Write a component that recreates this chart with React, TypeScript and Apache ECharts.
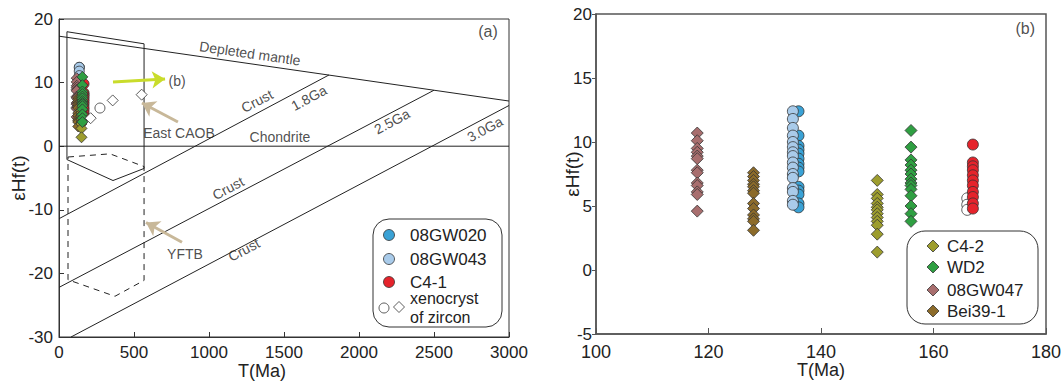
import React, { useEffect, useRef } from "react";
import * as echarts from "echarts";

const FONT = '"Liberation Sans", Arial, Helvetica, sans-serif';

// ---- Sample ages (Ma) ----
const age08GW020 = 136;
const age08GW043 = 135;
const ageC41 = 167;
const ageInherited = 166;
const age08GW047 = 118;
const ageBei391 = 128;
const ageC42 = 150;
const ageWD2 = 156;

// ---- εHf(t) values ----
const hf08GW020 = [12.4, 10.5, 9.7, 9.4, 9.1, 8.7, 8.3, 8.0, 7.7, 6.5, 6.2, 5.9, 5.2, 4.9];
const hf08GW043 = [12.4, 11.8, 11.1, 10.5, 10.0, 9.6, 9.2, 8.9, 8.4, 8.0, 7.5, 7.2, 6.4, 6.1, 5.4, 5.1];
const hfC41 = [9.8, 8.4, 8.1, 7.8, 7.4, 7.0, 6.6, 6.1, 5.7, 5.2, 4.8];
const hfInherited = [5.6, 5.1, 4.7];
const hf08GW047 = [10.7, 10.1, 9.5, 9.2, 8.9, 8.7, 7.8, 7.6, 6.8, 6.6, 6.1, 5.9, 4.6];
const hfBei391 = [7.6, 7.3, 7.0, 6.7, 6.5, 6.2, 6.0, 5.2, 4.8, 4.3, 4.0, 3.8, 3.1];
const hfC42 = [7.0, 5.9, 5.6, 5.2, 4.9, 4.7, 4.4, 4.1, 3.8, 3.5, 2.8, 1.4];
const hfWD2 = [10.9, 9.6, 8.6, 8.2, 7.8, 7.5, 7.1, 6.8, 6.6, 6.3, 5.8, 5.0, 4.4, 3.8];

// xenocryst zircons (panel a): [T, εHf]
const xenoCircles = [[273, 6.0]];
const xenoDiamonds = [[211, 4.4], [358, 7.2], [551, 8.1]];

// ---- reference lines (panel a) ----
const depletedMantle = [[0, 17.3], [3000, 7.1]];
const chondrite = [[0, 0], [3000, 0]];
const crust18 = [[0, -11.4], [1800, 11.2]];
const crust25 = [[0, -22.2], [2500, 8.8]];
const crust30 = [[80, -30], [3000, 6.4]];
const eastCAOBField = [[53, 18.0], [567, 16.1], [567, -3.5], [360, -5.4], [53, -2.1], [53, 18.0]];
const yftbField = [[60, -1.7], [340, -1.2], [567, -3.2], [567, -21.1], [373, -23.6], [60, -21.0], [60, -1.7]];

// arrows (panel a) in data coords
const arrowB = [[360, 10.1], [707, 10.55]];
const arrowCAOB = [[793, 3.8], [553, 6.8]];
const arrowYFTB = [[820, -15.1], [580, -12.0]];

// annotation texts: [T, εHf, text, rotation, font size]
const annotationsA: [number, number, string, number, number][] = [
  [1273, 14.6, "Depleted mantle", -8.2, 14],
  [1320, 7.1, "Crust", 28, 14],
  [1667, 7.6, "1.8Ga", 28, 14],
  [1473, 1.4, "Chondrite", 0, 14],
  [1127, -6.6, "Crust", 28, 14],
  [2220, 3.9, "2.5Ga", 28, 14],
  [1233, -16.3, "Crust", 28, 14],
  [2840, 2.7, "3.0Ga", 28, 14],
  [800, 2.0, "East CAOB", 0, 14],
  [840, -16.9, "YFTB", 0, 14],
  [787, 10.2, "(b)", 0, 14],
  [2860, 18.0, "(a)", 0, 16],
];
const annotationsB: [number, number, string, number, number][] = [
  [176.3, 18.9, "(b)", 0, 16],
];

// colours
const C_08GW020 = "#3aa2d6";
const C_08GW043 = "#a9cbea";
const C_C41 = "#e5232b";
const C_08GW047 = "#a86e6e";
const C_BEI391 = "#8c6b2a";
const C_C42 = "#9d9d2e";
const C_WD2 = "#2f9f42";

const pts = (age: number, arr: number[]) => arr.map((v) => [age, v]);

function scatter(name: string, gi: number, data: number[][], color: string, symbol: string, size: number) {
  return {
    name,
    type: "scatter",
    xAxisIndex: gi,
    yAxisIndex: gi,
    symbol,
    symbolSize: size,
    data,
    itemStyle: { color, borderColor: "#333", borderWidth: 0.8, opacity: 1 },
    z: 4,
  };
}

function lineS(data: number[][], dashed = false) {
  return {
    type: "line",
    xAxisIndex: 0,
    yAxisIndex: 0,
    data,
    symbol: "none",
    silent: true,
    lineStyle: { color: "#222", width: 1, type: dashed ? [6, 5] : "solid" },
    z: 2,
  };
}

function arrowS(coords: number[][], color: string) {
  return {
    type: "lines",
    coordinateSystem: "cartesian2d",
    xAxisIndex: 0,
    yAxisIndex: 0,
    symbol: ["none", "arrow"],
    symbolSize: 13,
    silent: true,
    lineStyle: { color, width: 3, opacity: 1, curveness: 0 },
    data: [{ coords }],
    z: 5,
  };
}

function annotS(gi: number, list: [number, number, string, number, number][]) {
  return {
    type: "scatter",
    xAxisIndex: gi,
    yAxisIndex: gi,
    symbolSize: 0,
    silent: true,
    z: 6,
    data: list.map(([x, y, t, r, fs]) => ({
      value: [x, y],
      name: t,
      label: { rotate: r, fontSize: fs },
    })),
    label: {
      show: true,
      position: "inside",
      formatter: "{b}",
      color: "#222",
      fontFamily: FONT,
    },
  };
}

function diamondPts(cx: number, cy: number, h: number) {
  return [[cx, cy - h], [cx + h, cy], [cx, cy + h], [cx - h, cy]];
}

const legendText = (x: number, y: number, text: string, fs = 17) => ({
  type: "text",
  x,
  y,
  style: { text, fontSize: fs, fontFamily: FONT, fill: "#222", verticalAlign: "middle", align: "left" },
});

const graphics = [
  // legend (a)
  { type: "rect", shape: { x: 373, y: 219, width: 129, height: 108, r: 16 }, style: { fill: "#fff", stroke: "#333", lineWidth: 1 }, z: 10 },
  { type: "circle", shape: { cx: 389, cy: 235, r: 5.5 }, style: { fill: C_08GW020, stroke: "#333", lineWidth: 0.8 }, z: 11 },
  { ...legendText(410, 235, "08GW020"), z: 11 },
  { type: "circle", shape: { cx: 389, cy: 259, r: 5.5 }, style: { fill: C_08GW043, stroke: "#333", lineWidth: 0.8 }, z: 11 },
  { ...legendText(410, 259, "08GW043"), z: 11 },
  { type: "circle", shape: { cx: 389, cy: 282, r: 5.5 }, style: { fill: C_C41, stroke: "#333", lineWidth: 0.8 }, z: 11 },
  { ...legendText(410, 282, "C4-1"), z: 11 },
  { type: "circle", shape: { cx: 384, cy: 308, r: 5 }, style: { fill: "#fff", stroke: "#333", lineWidth: 0.8 }, z: 11 },
  { type: "polygon", shape: { points: diamondPts(399, 307, 5.5) }, style: { fill: "#fff", stroke: "#333", lineWidth: 0.8 }, z: 11 },
  { ...legendText(410, 298, "xenocryst", 16), z: 11 },
  { ...legendText(410, 317, "of zircon", 16), z: 11 },
  // legend (b)
  { type: "rect", shape: { x: 907, y: 231, width: 131, height: 93, r: 18 }, style: { fill: "#fff", stroke: "#333", lineWidth: 1 }, z: 10 },
  { type: "polygon", shape: { points: diamondPts(933, 246, 6) }, style: { fill: C_C42, stroke: "#333", lineWidth: 0.8 }, z: 11 },
  { ...legendText(947, 246, "C4-2"), z: 11 },
  { type: "polygon", shape: { points: diamondPts(933, 267, 6) }, style: { fill: C_WD2, stroke: "#333", lineWidth: 0.8 }, z: 11 },
  { ...legendText(947, 267, "WD2"), z: 11 },
  { type: "polygon", shape: { points: diamondPts(933, 290, 6) }, style: { fill: C_08GW047, stroke: "#333", lineWidth: 0.8 }, z: 11 },
  { ...legendText(947, 290, "08GW047"), z: 11 },
  { type: "polygon", shape: { points: diamondPts(933, 311, 6) }, style: { fill: C_BEI391, stroke: "#333", lineWidth: 0.8 }, z: 11 },
  { ...legendText(947, 311, "Bei39-1"), z: 11 },
];

const axisNameStyle = { fontSize: 19, color: "#222", fontFamily: FONT };
const plain = (v: number) => String(v);

const option: any = {
  animation: false,
  backgroundColor: "#fff",
  textStyle: { fontFamily: FONT },
  grid: [
    {
      left: 59, top: 19, width: 450, height: 318, show: true, borderColor: "#333", borderWidth: 1,
      backgroundColor: "transparent", containLabel: false, outerBoundsMode: "none",
    },
    {
      left: 596, top: 14, width: 450, height: 320, show: true, borderColor: "#555", borderWidth: 1.5,
      backgroundColor: "transparent", containLabel: false, outerBoundsMode: "none",
    },
  ],
  xAxis: [
    {
      gridIndex: 0, type: "value", min: 0, max: 3000, interval: 500,
      axisLine: { onZero: false, lineStyle: { color: "#333", width: 1 } },
      axisTick: { inside: true, length: 5, lineStyle: { color: "#333" } },
      axisLabel: { fontSize: 17, color: "#222", margin: 7, fontFamily: FONT, formatter: plain },
      splitLine: { show: false },
      name: "T(Ma)", nameLocation: "middle", nameGap: 25, nameMoveOverlap: false,
      nameTextStyle: { ...axisNameStyle, fontSize: 18, padding: [0, 44, 0, 0] },
    },
    {
      gridIndex: 1, type: "value", min: 100, max: 180, interval: 20,
      axisLine: { onZero: false, lineStyle: { color: "#555", width: 1.5 } },
      axisTick: { inside: true, length: 6, lineStyle: { color: "#555" } },
      axisLabel: { fontSize: 18, color: "#222", margin: 9, fontFamily: FONT, formatter: plain },
      splitLine: { show: false },
      name: "T(Ma)", nameLocation: "middle", nameGap: 27, nameMoveOverlap: false,
      nameTextStyle: { ...axisNameStyle, fontSize: 18 },
    },
  ],
  yAxis: [
    {
      gridIndex: 0, type: "value", min: -30, max: 20, interval: 10,
      axisLine: { onZero: false, lineStyle: { color: "#333", width: 1 } },
      axisTick: { inside: true, length: 5, lineStyle: { color: "#333" } },
      axisLabel: { fontSize: 17, color: "#222", margin: 6, fontFamily: FONT, formatter: plain },
      splitLine: { show: false },
      name: "εHf(t)", nameLocation: "middle", nameGap: 31, nameMoveOverlap: false,
      nameTextStyle: axisNameStyle,
    },
    {
      gridIndex: 1, type: "value", min: -5, max: 20, interval: 5,
      axisLine: { onZero: false, lineStyle: { color: "#555", width: 1.5 } },
      axisTick: { inside: false, length: 4, lineStyle: { color: "#555" } },
      axisLabel: { fontSize: 17, color: "#222", margin: 4, fontFamily: FONT, formatter: plain },
      splitLine: { show: false },
      name: "εHf(t)", nameLocation: "middle", nameGap: 14, nameMoveOverlap: false,
      nameTextStyle: axisNameStyle,
    },
  ],
  series: [
    // panel (a) reference lines and fields
    lineS(depletedMantle),
    lineS(chondrite),
    lineS(crust18),
    lineS(crust25),
    lineS(crust30),
    lineS(eastCAOBField),
    lineS(yftbField, true),
    arrowS(arrowB, "#c9dc2b"),
    arrowS(arrowCAOB, "#c8b899"),
    arrowS(arrowYFTB, "#c8b899"),
    annotS(0, annotationsA),
    // panel (a) data
    scatter("08GW020", 0, pts(age08GW020, hf08GW020), C_08GW020, "circle", 10),
    scatter("08GW043", 0, pts(age08GW043, hf08GW043), C_08GW043, "circle", 10),
    scatter("C4-1", 0, pts(ageC41, hfC41), C_C41, "circle", 10),
    scatter("08GW047", 0, pts(age08GW047, hf08GW047), C_08GW047, "diamond", 11),
    scatter("Bei39-1", 0, pts(ageBei391, hfBei391), C_BEI391, "diamond", 11),
    scatter("C4-2", 0, pts(ageC42, hfC42), C_C42, "diamond", 11),
    scatter("WD2", 0, pts(ageWD2, hfWD2), C_WD2, "diamond", 11),
    scatter("xenocryst", 0, xenoCircles, "#fff", "circle", 10),
    scatter("xenocryst", 0, xenoDiamonds, "#fff", "diamond", 11),
    // panel (b) data
    annotS(1, annotationsB),
    scatter("08GW020", 1, pts(age08GW020, hf08GW020), C_08GW020, "circle", 11),
    scatter("08GW043", 1, pts(age08GW043, hf08GW043), C_08GW043, "circle", 11),
    scatter("inherited", 1, pts(ageInherited, hfInherited), "#fff", "circle", 11),
    scatter("C4-1", 1, pts(ageC41, hfC41), C_C41, "circle", 11),
    scatter("08GW047", 1, pts(age08GW047, hf08GW047), C_08GW047, "diamond", 12),
    scatter("Bei39-1", 1, pts(ageBei391, hfBei391), C_BEI391, "diamond", 12),
    scatter("C4-2", 1, pts(ageC42, hfC42), C_C42, "diamond", 12),
    scatter("WD2", 1, pts(ageWD2, hfWD2), C_WD2, "diamond", 12),
  ],
  graphic: graphics,
};

export default function App() {
  const ref = useRef<HTMLDivElement>(null);
  useEffect(() => {
    if (!ref.current) return;
    const chart = echarts.init(ref.current, null, { renderer: "svg" });
    chart.setOption(option);
    return () => chart.dispose();
  }, []);
  return (
    <div
      ref={ref}
      style={{ position: "fixed", left: 0, top: 0, width: 1064, height: 382, background: "#fff" }}
    />
  );
}
